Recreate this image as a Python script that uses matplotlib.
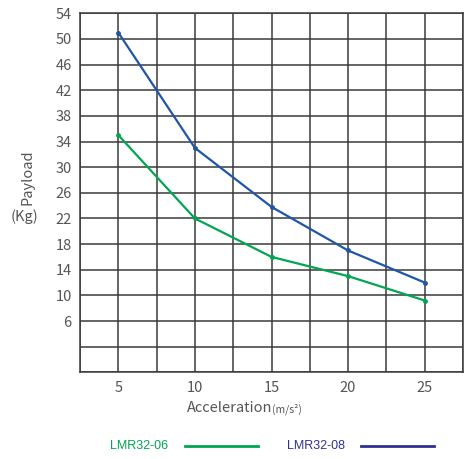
import matplotlib
matplotlib.use("Agg")
import matplotlib.pyplot as plt
import numpy as np

accel = [5, 10, 15, 20, 25]
lmr32_06 = [35, 22, 16, 13, 9.2]
lmr32_08 = [51, 33, 23.8, 17, 12]
yticks = [6, 10, 14, 18, 22, 26, 30, 34, 38, 42, 46, 50, 54]
xticks = [5, 10, 15, 20, 25]

green = '#00a651'
blue = '#1f56a8'
navy = '#2e3192'
txt = '#555555'

plt.rcParams['font.family'] = ['Noto Sans CJK SC', 'DejaVu Sans']
plt.rcParams['font.weight'] = 'light'

fig = plt.figure(figsize=(4.71, 4.59), dpi=100)
ax = fig.add_axes([80/471, 1-372.3/459, 383/471, 359/459])

ax.set_xlim(2.5, 27.5)
ax.set_ylim(-2, 54)
ax.set_xticks(np.arange(2.5, 27.6, 2.5), minor=True)
ax.set_yticks(np.arange(-2, 54.1, 4), minor=True)
ax.set_xticks(xticks)
ax.set_yticks(yticks)
ax.grid(which='both', color='#3a3a3a', linewidth=1.1)
ax.tick_params(which='both', length=0, labelsize=10.5, labelcolor=txt, pad=6)
for s in ax.spines.values():
    s.set_color('#3a3a3a')
    s.set_linewidth(1.1)

ax.plot(accel, lmr32_06, color=green, linewidth=1.6, marker='o', markersize=2.5, zorder=3)
ax.plot(accel, lmr32_08, color=blue, linewidth=1.6, marker='o', markersize=2.5, zorder=3)

fig.text(27/471, 1-177/459, 'Payload', rotation=90, ha='center', va='center',
         color=txt, fontsize=10.5)
fig.text(25/471, 1-217/459, '(Kg)', ha='center', va='center', color=txt, fontsize=10.5)
fig.text(272/471, 1-408/459, 'Acceleration', ha='right', va='center', color=txt, fontsize=10.5)
fig.text(272/471, 1-409/459, '(m/s²)', ha='left', va='center', color=txt, fontsize=7.5)

# legend drawn by hand below the axes
fig.text(110/471, 1-446/459, 'LMR32-06', color=green, fontsize=9,
         family='Liberation Sans', weight='normal', va='center')
fig.lines.append(plt.Line2D([185/471, 258/471], [1-446/459]*2, color=green, linewidth=2,
                            transform=fig.transFigure))
fig.text(287/471, 1-446/459, 'LMR32-08', color=navy, fontsize=9,
         family='Liberation Sans', weight='normal', va='center')
fig.lines.append(plt.Line2D([361/471, 434/471], [1-446/459]*2, color=navy, linewidth=2,
                            transform=fig.transFigure))

fig.savefig('out.png', dpi=100, facecolor='white')
